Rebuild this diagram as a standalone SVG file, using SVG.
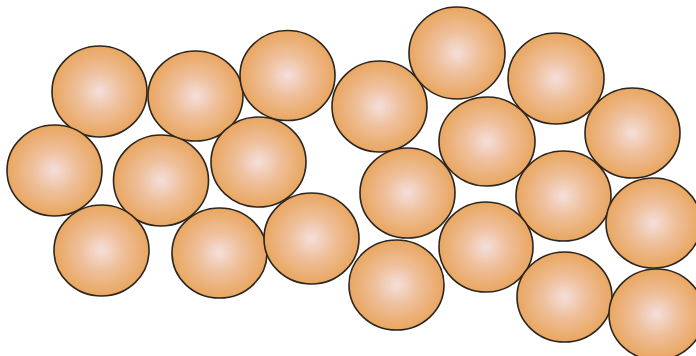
<svg xmlns="http://www.w3.org/2000/svg" width="696" height="356" viewBox="0 0 696 356">
<defs>
<radialGradient id="g" cx="50%" cy="50%" r="50%">
<stop offset="0" stop-color="#f4dfdb"/>
<stop offset="0.45" stop-color="#efc09c"/>
<stop offset="1" stop-color="#e9a660"/>
</radialGradient>
</defs>
<style>
.b{fill:url(#g);stroke:#2b2520;stroke-width:1.6}
</style>
<rect width="696" height="356" fill="#ffffff"/>
<g id="balls">
<ellipse id="b1" class="b" cx="99.5" cy="91.5" rx="47.5" ry="45.5"/>
<ellipse id="b2" class="b" cx="195.5" cy="96" rx="47.5" ry="45"/>
<ellipse id="b3" class="b" cx="287.5" cy="75.5" rx="47.5" ry="45"/>
<ellipse id="b4" class="b" cx="54.5" cy="170.5" rx="47.5" ry="45.5"/>
<ellipse id="b5" class="b" cx="161" cy="180.5" rx="47.5" ry="45.5"/>
<ellipse id="b6" class="b" cx="258.5" cy="162" rx="47.5" ry="45"/>
<ellipse id="b7" class="b" cx="101.5" cy="250.5" rx="47.5" ry="45.5"/>
<ellipse id="b8" class="b" cx="219.5" cy="253" rx="47.5" ry="45"/>
<ellipse id="b9" class="b" cx="311.5" cy="238.5" rx="47.5" ry="45.5"/>
<ellipse id="b10" class="b" cx="379.5" cy="106.5" rx="47.5" ry="45.5"/>
<ellipse id="b11" class="b" cx="457" cy="53" rx="48" ry="46"/>
<ellipse id="b12" class="b" cx="556" cy="78.5" rx="48" ry="45.5"/>
<ellipse id="b13" class="b" cx="487" cy="141.5" rx="48" ry="44.5"/>
<ellipse id="b14" class="b" cx="632.5" cy="133" rx="47.5" ry="45"/>
<ellipse id="b15" class="b" cx="407.5" cy="193" rx="47.5" ry="45"/>
<ellipse id="b16" class="b" cx="563.5" cy="196" rx="47.5" ry="45"/>
<ellipse id="b17" class="b" cx="653.5" cy="223" rx="47.5" ry="45"/>
<ellipse id="b18" class="b" cx="486" cy="247" rx="47" ry="45"/>
<ellipse id="b19" class="b" cx="396.5" cy="285" rx="47.5" ry="45"/>
<ellipse id="b20" class="b" cx="564.5" cy="297" rx="47.5" ry="45"/>
<ellipse id="b21" class="b" cx="656.5" cy="314.5" rx="47.5" ry="45.5"/>
</g>
</svg>
